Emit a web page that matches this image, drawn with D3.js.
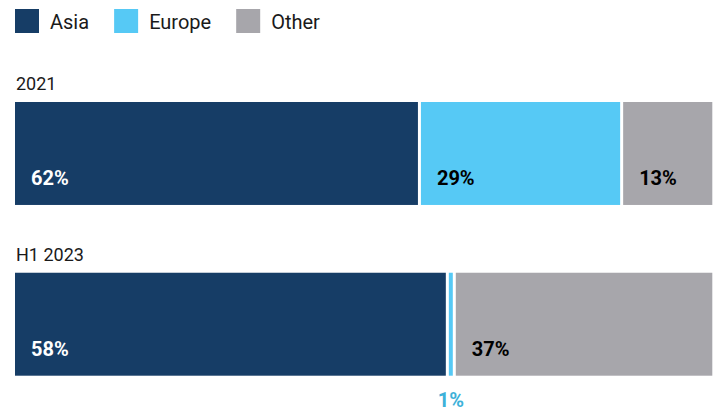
<!DOCTYPE html>
<html>
<head>
<meta charset="UTF-8">
<title>Share by region</title>
<style>
body { margin: 0; background: #fff; }
text { font-family: Roboto, "DejaVu Sans", sans-serif; }
.legend text { font-size: 20px; fill: #1a1a1a; }
.period { font-size: 18px; fill: #1a1a1a; }
.value { font-size: 20px; font-weight: 700; }
</style>
</head>
<body>
<script src="https://cdn.jsdelivr.net/npm/d3@7"></script>
<script>

// data
var regions = ["Asia", "Europe", "Other"];
var periods = ["2021", "H1 2023"];
// segment widths as drawn (percent of the bar)
var share2021 = [58, 29, 13];
var shareH1 = [62, 1, 37];
// labels as printed on the chart
var label2021 = ["62%", "29%", "13%"];
var labelH1 = ["58%", "1%", "37%"];

var colors = ["#163d66", "#56c9f5", "#a7a6ab"];
var labelColors = ["#ffffff", "#000000", "#000000"];

var width = 715, height = 411;

var svg = d3.select("body").append("svg")
    .attr("width", width)
    .attr("height", height);

var x = d3.scaleLinear().domain([0, 100]).range([15, 712.3]);
var y = d3.scaleBand().domain(periods).range([102, 375.7])
    .paddingInner(0.397).paddingOuter(0);

var color = d3.scaleOrdinal().domain(regions).range(colors);

// legend
var legend = svg.append("g").attr("class", "legend");
var lx = 15;
regions.forEach(function(r) {
  var g = legend.append("g").attr("transform", "translate(" + lx + ",9)");
  g.append("rect").attr("width", 24).attr("height", 24).attr("fill", color(r));
  var t = g.append("text").attr("x", 35).attr("y", 19.5).text(r);
  lx += 35 + t.node().getComputedTextLength() + 25;
});

// rows
var rows = [
  { period: periods[0], shares: share2021, labels: label2021 },
  { period: periods[1], shares: shareH1, labels: labelH1 }
];

var gap = 1.5;

rows.forEach(function(row) {
  var top = y(row.period);
  var g = svg.append("g");

  g.append("text")
      .attr("class", "period")
      .attr("x", 16)
      .attr("y", top - 12)
      .text(row.period);

  var start = 0;
  row.shares.forEach(function(v, i) {
    var x0 = x(start) + (i > 0 ? gap : 0);
    var x1 = x(start + v) - (i < row.shares.length - 1 ? gap : 0);
    g.append("rect")
        .attr("x", x0)
        .attr("y", top)
        .attr("width", Math.max(0, x1 - x0))
        .attr("height", y.bandwidth())
        .attr("fill", colors[i]);

    if (x1 - x0 > 60) {
      g.append("text")
          .attr("class", "value")
          .attr("x", x0 + 16)
          .attr("y", top + 83)
          .attr("fill", labelColors[i])
          .text(row.labels[i]);
    } else {
      // too narrow: put the label under the bar
      g.append("text")
          .attr("class", "value")
          .attr("x", (x0 + x1) / 2)
          .attr("y", top + y.bandwidth() + 31)
          .attr("text-anchor", "middle")
          .attr("fill", "#3eb1d9")
          .text(row.labels[i]);
    }
    start += v;
  });
});

</script>
</body>
</html>
